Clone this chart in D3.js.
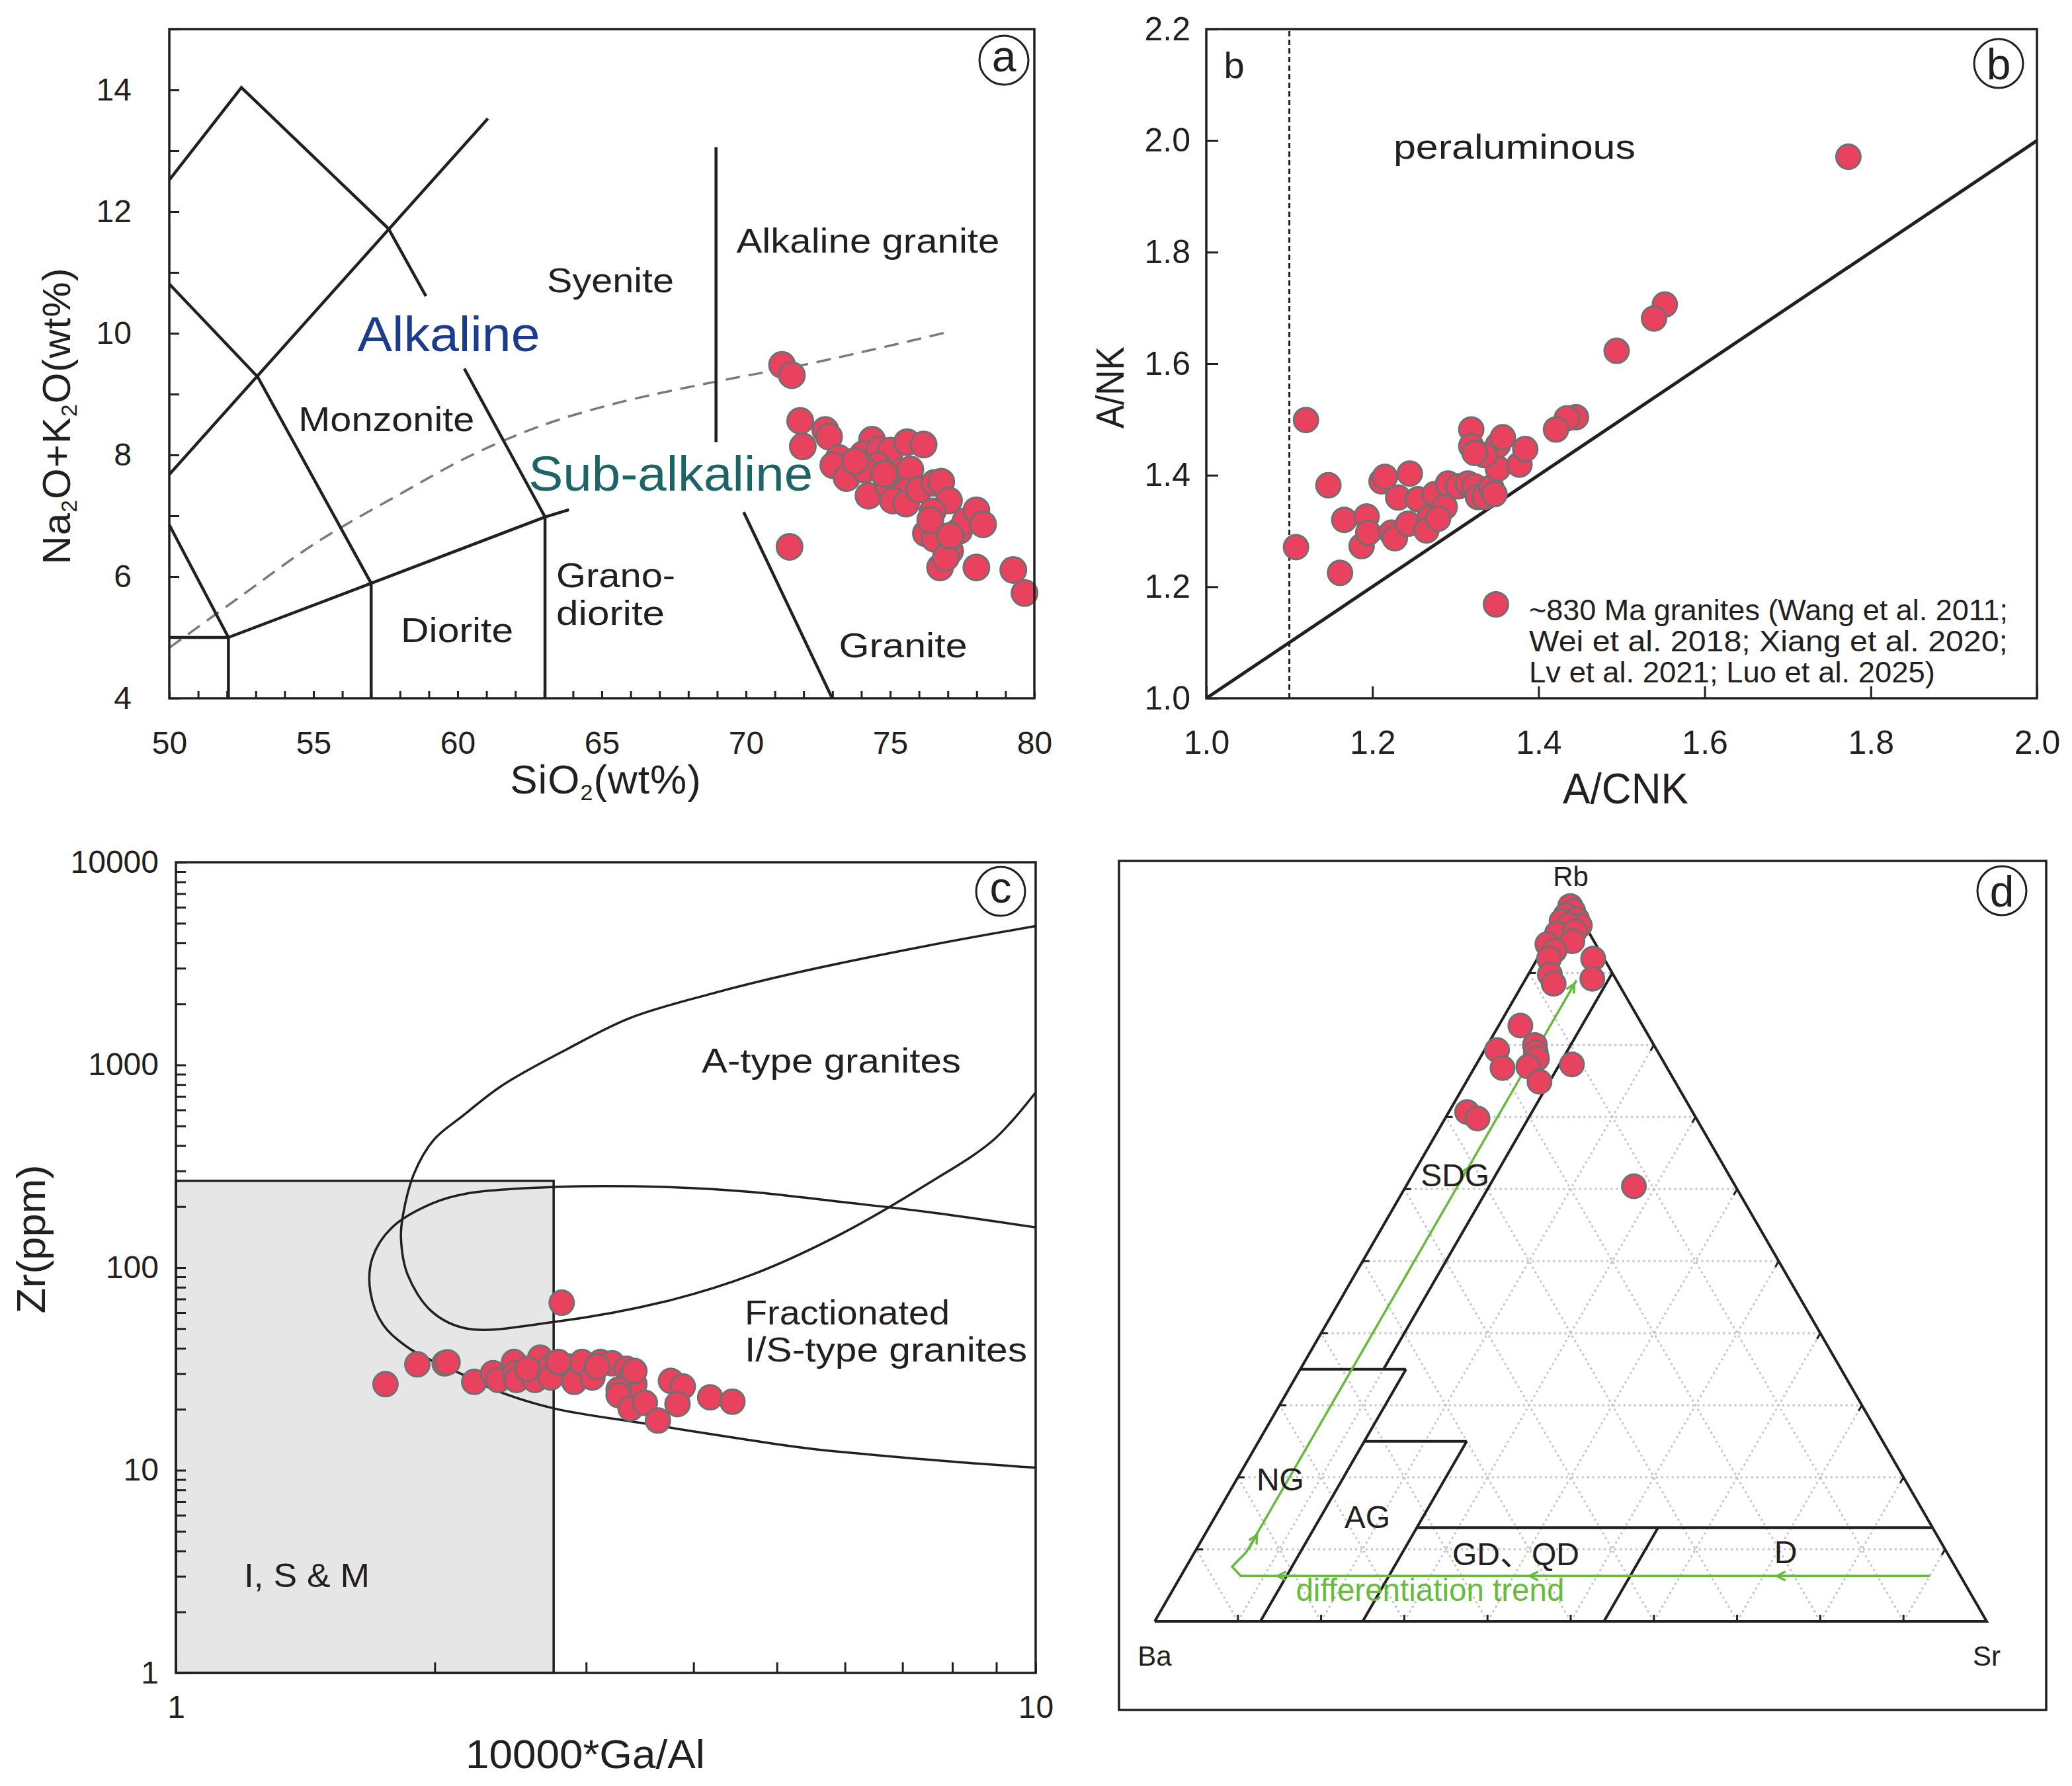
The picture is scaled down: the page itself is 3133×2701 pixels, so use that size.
<!DOCTYPE html>
<html>
<head>
<meta charset="utf-8">
<title>Granite discrimination diagrams</title>
<script src="https://cdn.jsdelivr.net/npm/d3@7"></script>
<style>
  body { margin: 0; background: #fff; }
  svg text { font-family: Arial, "Liberation Sans", "Noto Sans CJK SC", sans-serif; fill: #231f20; }
</style>
</head>
<body>
<svg id="chart" width="3133" height="2701"></svg>
<script>
// ---------- (a) SiO2 vs Na2O+K2O ----------
const tasSamples = [
  [71.25, 9.48], [71.59, 9.31], [71.88, 8.56], [71.97, 8.14], [72.75, 8.41], [72.88, 8.30],
  [73.22, 7.95], [73.03, 7.83], [73.49, 7.62], [74.37, 8.25], [74.06, 8.01], [74.63, 8.09],
  [75.01, 8.07], [75.59, 8.21], [76.16, 8.17], [74.56, 7.83], [74.10, 7.76], [75.40, 7.73],
  [75.70, 7.76], [74.25, 7.33], [74.94, 7.47], [75.55, 7.40], [75.09, 7.25], [75.55, 7.20],
  [76.00, 7.43], [76.54, 7.54], [76.77, 7.56], [77.04, 7.25], [76.47, 7.07], [76.24, 6.71],
  [76.54, 6.62], [77.08, 6.42], [76.73, 6.15], [77.39, 6.75], [77.61, 6.91], [77.99, 7.09],
  [78.22, 6.86], [77.99, 6.15], [79.27, 6.11], [79.66, 5.73], [71.51, 6.49], [73.79, 7.90],
  [74.79, 7.69], [76.39, 6.93], [76.93, 6.31], [77.08, 6.67]
];
const tasBoundaries = [
  [[50, 12.52], [52.5, 14.04], [57.6, 11.72], [58.9, 10.61]],
  [[60.23, 9.42], [63.03, 6.98]],
  [[50, 7.68], [61.05, 13.53]],
  [[50, 10.81], [53.07, 9.28], [57.0, 5.89], [57.0, 4]],
  [[50, 6.85], [52.05, 5.0], [52.05, 4]],
  [[50, 5.0], [52.05, 5.0]],
  [[52.05, 5.0], [57.0, 5.89], [63.03, 6.98], [63.86, 7.1]],
  [[63.03, 6.98], [63.03, 4]],
  [[68.96, 13.06], [68.96, 8.21]],
  [[69.92, 7.06], [72.99, 4]]
];
const alkalineDivide = [[50, 4.83], [52.4, 5.65], [55.1, 6.56], [57.9, 7.33], [60.5, 8.0],
  [62.9, 8.48], [65.5, 8.85], [68.9, 9.2], [72.4, 9.52], [77, 10.02]];
const tasFields = [
  ['Alkaline granite', 74.23, 11.53], ['Syenite', 65.3, 10.88], ['Monzonite', 57.53, 8.6],
  ['Diorite', 59.98, 5.13], ['Granite', 75.45, 4.88]
];
const tasFieldsLeft = [['Grano-', 63.42, 6.03], ['diorite', 63.42, 5.41]];
const tasSeries = [['Alkaline', 59.69, 10.0], ['Sub-alkaline', 67.39, 7.7]];

// ---------- (b) A/CNK vs A/NK ----------
const aluminaSamples = [
  [1.773, 1.971], [1.552, 1.706], [1.539, 1.681], [1.494, 1.623], [1.445, 1.504], [1.434, 1.502],
  [1.421, 1.482], [1.120, 1.499], [1.108, 1.271], [1.147, 1.382], [1.161, 1.225], [1.166, 1.320],
  [1.193, 1.326], [1.187, 1.273], [1.195, 1.297], [1.211, 1.389], [1.215, 1.397], [1.245, 1.403],
  [1.231, 1.360], [1.223, 1.297], [1.227, 1.287], [1.243, 1.313], [1.255, 1.357], [1.269, 1.324],
  [1.275, 1.366], [1.265, 1.301], [1.287, 1.343], [1.291, 1.385], [1.303, 1.380], [1.315, 1.385],
  [1.319, 1.482], [1.319, 1.452], [1.323, 1.380], [1.327, 1.361], [1.335, 1.361], [1.343, 1.378],
  [1.351, 1.454], [1.357, 1.468], [1.351, 1.412], [1.347, 1.366], [1.377, 1.419], [1.384, 1.447],
  [1.279, 1.322], [1.335, 1.436], [1.323, 1.440]
];
const aluminaLegend = ['~830 Ma granites (Wang et al. 2011;', 'Wei et al. 2018; Xiang et al. 2020;',
  'Lv et al. 2021; Luo et al. 2025)'];

// ---------- (c) 10000*Ga/Al vs Zr ----------
const gaAlSamples = [
  [2.81, 67.1], [1.753, 26.6], [1.909, 33.3], [2.054, 33.7], [2.07, 34.1], [2.223, 27.3],
  [2.338, 30.1], [2.371, 27.9], [2.473, 34.2], [2.481, 30.1], [2.49, 27.9], [2.616, 27.9],
  [2.653, 35.9], [2.729, 32.5], [2.729, 28.7], [2.866, 32.5], [2.906, 27.3], [2.967, 34.2],
  [3.051, 28.7], [3.117, 34.2], [3.217, 33.7], [3.343, 31.7], [3.39, 29.4], [3.414, 26.6],
  [3.273, 25.0], [3.273, 23.5], [3.379, 20.2], [3.511, 21.5], [3.636, 17.6], [3.765, 27.6],
  [3.887, 25.9], [3.832, 21.2], [4.182, 22.9], [4.439, 21.8], [3.414, 30.9], [3.09, 32.5],
  [2.786, 34.2], [2.562, 31.7]
];
const aTypeField = [[10, 4842], [7.5, 3880], [5.27, 2851], [4.16, 2224], [3.37, 1701], [2.86, 1205],
  [2.395, 791], [2.155, 560], [1.996, 428], [1.893, 292], [1.838, 184], [1.827, 141], [1.86, 92.3],
  [1.985, 60.6], [2.18, 50.0], [2.76, 54.0], [3.7, 67.9], [4.68, 92.3], [5.93, 146], [7.5, 260],
  [8.94, 428], [10, 732]];
const fractionatedField = [[10, 158], [7.5, 188], [5.93, 211], [4.68, 236], [3.7, 250], [2.76, 250],
  [2.18, 232], [1.985, 207], [1.785, 158], [1.693, 112], [1.683, 76.3], [1.743, 52.0], [1.872, 39.7],
  [2.15, 29.8], [2.36, 24.7], [2.75, 20.2], [3.51, 17.0], [4.64, 14.1], [5.46, 12.8], [7.84, 11.1],
  [10, 10.3]];
const isBox = [[1, 1], [2.75, 268]];

// ---------- (d) Ba-Rb-Sr ternary, [Ba, Rb, Sr] in % ----------
const ternarySamples = [
  [0.4, 99.3, 0.3], [0.4, 98.6, 1.0], [1.6, 98.0, 0.4], [0.5, 97.5, 2.0], [2.5, 97.2, 0.3],
  [0.6, 96.6, 2.8], [1.9, 96.7, 1.4], [3.9, 95.5, 0.6], [1.6, 95.8, 2.6], [2.6, 94.4, 3.0],
  [5.8, 94.0, 0.2], [5.4, 93.1, 1.5], [6.6, 92.0, 1.4], [7.6, 89.8, 2.6], [7.8, 88.5, 3.7],
  [1.3, 92.0, 6.7], [2.8, 89.2, 8.0], [14.7, 82.7, 2.6], [19.2, 79.3, 1.5], [19.8, 76.8, 3.4],
  [14.3, 80.0, 5.7], [14.7, 79.0, 6.3], [15.0, 78.1, 6.9], [16.6, 77.0, 6.4], [16.3, 74.9, 8.8],
  [11.2, 77.3, 11.5], [27.1, 70.7, 2.2], [26.3, 69.8, 3.9], [12.2, 60.4, 27.4]
];
const ternaryFields = [
  [[0, 90, 10], [55, 35, 10]],
  [[65, 35, 0], [52.3, 35, 12.7]],
  [[52.3, 35, 12.7], [87.3, 0, 12.7]],
  [[62.3, 25, 12.7], [50, 25, 25]],
  [[50, 25, 25], [75, 0, 25]],
  [[62, 13, 25], [0, 13, 87]],
  [[33, 13, 54], [46, 0, 54]]
];
const ternaryFieldNames = [['SDG', [32.9, 62.0, 5.1]], ['NG', [75.0, 19.8, 5.2]], ['AG', [67.2, 14.5, 18.3]],
  ['GD、QD', [51.9, 9.4, 38.7]], ['D', [19.3, 9.7, 71.0]]];
const trendPath = [[3.7, 6.3, 90], [86.5, 6.3, 7.2], [86.9, 7.6, 5.5], [84.2, 9.6, 6.2], [4.8, 89, 6.2]];
const trendArrows = [
  [[20.1, 6.3, 73.6], [22.1, 6.3, 71.6]], [[49.8, 6.3, 43.9], [51.8, 6.3, 41.9]],
  [[80.1, 6.3, 13.6], [82.1, 6.3, 11.6]], [[83.7, 10, 6.3], [81.7, 12, 6.3]],
  [[32.8, 61, 6.2], [30.8, 63, 6.2]], [[7.3, 86.5, 6.2], [5.3, 88.5, 6.2]]
];
const trendLabel = ['differentiation trend', [64.7, 4.4, 30.9]];

// ---------- drawing ----------
const INK = '#231f20', FILL = '#e8425e', EDGE = '#707070', GREEN = '#67bb3c';
const FONT = 'Arial, "Liberation Sans", "Noto Sans CJK SC", sans-serif';
const svg = d3.select('#chart');
svg.append('rect').attr('width', 3133).attr('height', 2701).attr('fill', '#fff');

function dots(g, data, px, py, r) {
  g.selectAll(null).data(data).join('circle')
    .attr('cx', px).attr('cy', py).attr('r', r)
    .attr('fill', FILL).attr('stroke', EDGE).attr('stroke-width', 3);
}
function styleAxis(g, size) {
  g.attr('font-family', FONT).attr('font-size', size);
  g.select('.domain').remove();
  g.selectAll('.tick line').attr('stroke', INK).attr('stroke-width', 3);
  g.selectAll('.tick text').attr('fill', INK);
}
function frame(x0, y0, x1, y1) {
  svg.append('rect').attr('x', x0).attr('y', y0).attr('width', x1 - x0).attr('height', y1 - y0)
    .attr('fill', 'none').attr('stroke', INK).attr('stroke-width', 3.5);
}
function circled(x, y, letter, dy) {
  svg.append('circle').attr('cx', x).attr('cy', y).attr('r', 37)
    .attr('fill', 'none').attr('stroke', INK).attr('stroke-width', 3);
  svg.append('text').attr('x', x).attr('y', y).attr('dy', dy).attr('text-anchor', 'middle')
    .attr('font-size', 66).text(letter);
}
function label(x, y, txt, size, len, anchor) {
  const t = svg.append('text').attr('x', x).attr('y', y).attr('dy', '0.36em')
    .attr('text-anchor', anchor || 'middle').attr('font-size', size).text(txt);
  if (len) t.attr('textLength', len).attr('lengthAdjust', 'spacingAndGlyphs');
  return t;
}

// ===== panel a =====
const ax = d3.scaleLinear().domain([50, 80]).range([256, 1564]);
const ay = d3.scaleLinear().domain([4, 15]).range([1056, 44]);
const aLine = d3.line().x(d => ax(d[0])).y(d => ay(d[1]));
const ga = svg.append('g');
ga.append('path').attr('d', d3.line().x(d => ax(d[0])).y(d => ay(d[1])).curve(d3.curveCatmullRom)(alkalineDivide))
  .attr('fill', 'none').attr('stroke', '#7a7a7a').attr('stroke-width', 3.5).attr('stroke-dasharray', '22,13');
ga.selectAll(null).data(tasBoundaries).join('path').attr('d', aLine)
  .attr('fill', 'none').attr('stroke', INK).attr('stroke-width', 4.5);
svg.append('g').attr('transform', 'translate(0,1056)')
  .call(d3.axisBottom(ax).tickValues(d3.range(50, 81)).tickSizeInner(-11).tickSizeOuter(0).tickPadding(50)
    .tickFormat(d => d % 5 === 0 ? d : ''))
  .call(g => styleAxis(g, 48));
svg.append('g').attr('transform', 'translate(256,0)')
  .call(d3.axisLeft(ay).tickValues(d3.range(4, 16)).tickSizeInner(-15).tickSizeOuter(0).tickPadding(57)
    .tickFormat(d => (d % 2 === 0 && d < 15) ? d : ''))
  .call(g => styleAxis(g, 48));
const tasWidths = [398, 192, 266, 170, 194];
tasFields.forEach(([t, x, y], i) => label(ax(x), ay(y), t, 52, tasWidths[i]));
tasFieldsLeft.forEach(([t, x, y], i) => label(ax(x), ay(y), t, 52, [180, 164][i], 'start'));
label(ax(tasSeries[0][1]), ay(tasSeries[0][2]), tasSeries[0][0], 74, 276).style('fill', '#1b3c8c');
label(ax(tasSeries[1][1]), ay(tasSeries[1][2]), tasSeries[1][0], 74, 430).style('fill', '#1d6466');
dots(ga, tasSamples, d => ax(d[0]), d => ay(d[1]), 19.5);
frame(256, 44, 1564, 1056);
circled(1518, 91, 'a', '0.26em');
{
  const t = svg.append('text').attr('x', 916).attr('y', 1178).attr('dy', '0.36em')
    .attr('text-anchor', 'middle').attr('font-size', 62).attr('letter-spacing', 1);
  t.append('tspan').text('SiO');
  t.append('tspan').attr('font-size', 34).attr('dy', 10).text('2');
  t.append('tspan').attr('dy', -10).text('(wt%)');
  const y = svg.append('text').attr('transform', 'translate(84,629) rotate(-90)').attr('dy', '0.36em')
    .attr('text-anchor', 'middle').attr('font-size', 60).attr('letter-spacing', 1);
  y.append('tspan').text('Na');
  y.append('tspan').attr('font-size', 34).attr('dy', 10).text('2');
  y.append('tspan').attr('dy', -10).text('O+K');
  y.append('tspan').attr('font-size', 34).attr('dy', 10).text('2');
  y.append('tspan').attr('dy', -10).text('O(wt%)');
}

// ===== panel b =====
const bx = d3.scaleLinear().domain([1, 2]).range([1824, 3080]);
const by = d3.scaleLinear().domain([1, 2.2]).range([1056, 44]);
const gb = svg.append('g');
gb.append('line').attr('x1', bx(1.1)).attr('x2', bx(1.1)).attr('y1', by(1)).attr('y2', by(2.2))
  .attr('stroke', INK).attr('stroke-width', 3).attr('stroke-dasharray', '8,5');
gb.append('line').attr('x1', bx(1)).attr('y1', by(1)).attr('x2', bx(2)).attr('y2', by(2))
  .attr('stroke', INK).attr('stroke-width', 5);
svg.append('g').attr('transform', 'translate(0,1056)')
  .call(d3.axisBottom(bx).tickValues(d3.range(1, 2.01, 0.2)).tickSizeInner(-18).tickSizeOuter(0).tickPadding(48)
    .tickFormat(d3.format('.1f')))
  .call(g => styleAxis(g, 50));
svg.append('g').attr('transform', 'translate(1824,0)')
  .call(d3.axisLeft(by).tickValues(d3.range(1, 2.21, 0.2)).tickSizeInner(-18).tickSizeOuter(0).tickPadding(24)
    .tickFormat(d3.format('.1f')))
  .call(g => styleAxis(g, 50));
dots(gb, aluminaSamples, d => bx(d[0]), d => by(d[1]), 18.5);
label(bx(1.371), by(1.99), 'peraluminous', 52, 366);
label(bx(1) + 42, by(2.2) + 54, 'b', 56, null);
dots(gb, [0], () => 2262, () => 914, 18.5);
aluminaLegend.forEach((t, i) => label(2312, 922 + i * 47, t, 44, i < 2 ? 724 : 614, 'start'));
frame(1824, 44, 3080, 1056);
circled(3022, 96, 'b', '0.36em');
label(2458, 1192, 'A/CNK', 64, 190);
svg.append('text').attr('transform', 'translate(1677,586) rotate(-90)').attr('dy', '0.36em')
  .attr('text-anchor', 'middle').attr('font-size', 60).attr('textLength', 124)
  .attr('lengthAdjust', 'spacingAndGlyphs').text('A/NK');

// ===== panel c =====
const cx = d3.scaleLog().domain([1, 10]).range([266, 1566]);
const cy = d3.scaleLog().domain([1, 10000]).range([2530, 1304]);
const cLine = d3.line().x(d => cx(d[0])).y(d => cy(d[1])).curve(d3.curveCatmullRom.alpha(0.5));
const gc = svg.append('g');
gc.append('rect').attr('x', cx(isBox[0][0])).attr('y', cy(isBox[1][1]))
  .attr('width', cx(isBox[1][0]) - cx(isBox[0][0])).attr('height', cy(isBox[0][1]) - cy(isBox[1][1]))
  .attr('fill', '#e6e6e6').attr('stroke', INK).attr('stroke-width', 3.5);
gc.selectAll(null).data([aTypeField, fractionatedField]).join('path').attr('d', cLine)
  .attr('fill', 'none').attr('stroke', INK).attr('stroke-width', 3.5);
const minorX = d3.range(2, 10);
const minorY = [1, 10, 100, 1000].flatMap(b => d3.range(1, 10).map(k => k * b)).concat([10000]);
svg.append('g').attr('transform', 'translate(0,2530)')
  .call(d3.axisBottom(cx).tickValues([1].concat(minorX, [10])).tickSizeInner(-16).tickSizeOuter(0).tickPadding(34)
    .tickFormat(d => (d === 1 || d === 10) ? d : ''))
  .call(g => styleAxis(g, 48));
svg.append('g').attr('transform', 'translate(266,0)')
  .call(d3.axisLeft(cy).tickValues(minorY).tickSizeInner(-15).tickSizeOuter(0).tickPadding(26)
    .tickFormat(d => [1, 10, 100, 1000, 10000].includes(d) ? d : ''))
  .call(g => styleAxis(g, 48));
dots(gc, gaAlSamples, d => cx(d[0]), d => cy(d[1]), 18.5);
label(1257, 1603, 'A-type granites', 52, 392);
label(1126, 1984, 'Fractionated', 52, 310, 'start');
label(1126, 2040, 'I/S-type granites', 52, 427, 'start');
label(464, 2382, 'I, S & M', 50, 190);
frame(266, 1304, 1566, 2530);
circled(1513, 1348, 'c', '0.26em');
label(885, 2652, '10000*Ga/Al', 62, 362);
svg.append('text').attr('transform', 'translate(46,1874) rotate(-90)').attr('dy', '0.36em')
  .attr('text-anchor', 'middle').attr('font-size', 62).attr('textLength', 225)
  .attr('lengthAdjust', 'spacingAndGlyphs').text('Zr(ppm)');

// ===== panel d =====
const tx = d3.scaleLinear().domain([0, 100]).range([1746, 3004]);
const ty = d3.scaleLinear().domain([0, 100]).range([2452, 1362.5]);
const tern = d => [tx(d[2] + d[1] / 2), ty(d[1])];
const tLine = d3.line().x(d => tern(d)[0]).y(d => tern(d)[1]);
const gd = svg.append('g');
frame(1692, 1302, 3094, 2586);
const grid = [];
d3.range(10, 100, 10).forEach(k => {
  grid.push([[100 - k, k, 0], [0, k, 100 - k]]);
  grid.push([[100 - k, 0, k], [0, 100 - k, k]]);
  grid.push([[k, 0, 100 - k], [k, 100 - k, 0]]);
});
gd.selectAll(null).data(grid).join('path').attr('d', tLine)
  .attr('stroke', '#c4c4c4').attr('stroke-width', 3).attr('stroke-dasharray', '3,5').attr('fill', 'none');
const ticks = [];
d3.range(10, 100, 10).forEach(k => {
  ticks.push([[100 - k, 0, k], [100 - k - 0.46, 0.92, k - 0.46]]);
  ticks.push([[100 - k, k, 0], [99.2 - k, k, 0.8]]);
  ticks.push([[0, 100 - k, k], [0.8, 100 - k - 0.8, k]]);
});
gd.selectAll(null).data(ticks).join('path').attr('d', tLine).attr('stroke', INK).attr('stroke-width', 3);
gd.append('path').attr('d', tLine([[100, 0, 0], [0, 100, 0], [0, 0, 100], [100, 0, 0]]))
  .attr('fill', 'none').attr('stroke', INK).attr('stroke-width', 4);
gd.selectAll(null).data(ternaryFields).join('path').attr('d', tLine)
  .attr('fill', 'none').attr('stroke', INK).attr('stroke-width', 4);
svg.append('defs').append('marker').attr('id', 'arrowG').attr('viewBox', '0 -6 12 12')
  .attr('refX', 10).attr('refY', 0).attr('markerWidth', 16).attr('markerHeight', 16)
  .attr('markerUnits', 'userSpaceOnUse').attr('orient', 'auto')
  .append('path').attr('d', 'M0,-5L10,0L0,5').attr('fill', 'none').attr('stroke', GREEN).attr('stroke-width', 2.5);
gd.append('path').attr('d', tLine(trendPath)).attr('fill', 'none').attr('stroke', GREEN).attr('stroke-width', 3.5);
gd.selectAll(null).data(trendArrows).join('path').attr('d', tLine)
  .attr('stroke', GREEN).attr('stroke-width', 3).attr('marker-end', 'url(#arrowG)');
ternaryFieldNames.forEach(([t, p]) => label(tern(p)[0], tern(p)[1], t, 48, null));
label(tern(trendLabel[1])[0], tern(trendLabel[1])[1], trendLabel[0], 48, 406).style('fill', GREEN);
dots(gd, ternarySamples, d => tern(d)[0], d => tern(d)[1], 18);
label(tern([0, 100, 0])[0], tern([0, 100, 0])[1] - 38, 'Rb', 42, null);
label(tern([100, 0, 0])[0], tern([100, 0, 0])[1] + 52, 'Ba', 42, null);
label(tern([0, 0, 100])[0], tern([0, 0, 100])[1] + 52, 'Sr', 42, null);
circled(3027, 1347, 'd', '0.36em');
</script>
</body>
</html>
